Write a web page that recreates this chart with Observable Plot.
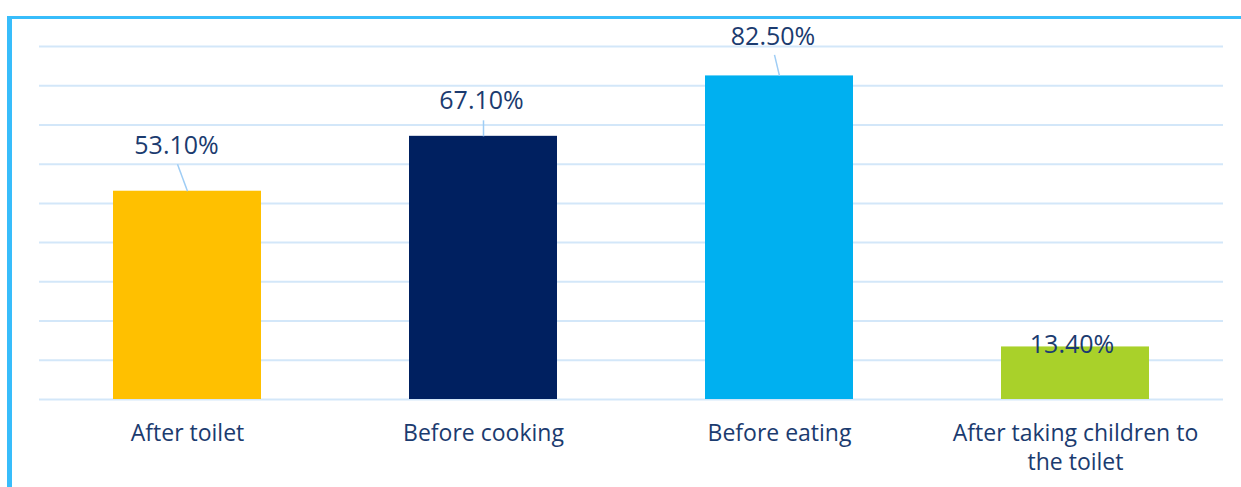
<!DOCTYPE html>
<html>
<head>
<meta charset="utf-8">
<script src="https://cdn.jsdelivr.net/npm/d3@7"></script>
<script src="https://cdn.jsdelivr.net/npm/@observablehq/plot@0.6"></script>
<style>
  html, body { margin: 0; padding: 0; background: #fff; }
  #wrap { position: relative; width: 1241px; height: 487px; overflow: hidden; }
  #frame { position: absolute; left: 7px; top: 16px; width: 1240px; height: 480px;
           border-left: 5px solid #38BDFB; border-top: 3px solid #38BDFB; box-sizing: border-box; }
  #chart { position: absolute; left: 0; top: 0; }
</style>
</head>
<body>
<div id="wrap"><div id="frame"></div><div id="chart"></div></div>
<script>
// ---- data ----
const categories = ["After toilet", "Before cooking", "Before eating", "After taking children to the toilet"];
const tickLabels = ["After toilet", "Before cooking", "Before eating", "After taking children to\nthe toilet"];
const values = [53.1, 67.1, 82.5, 13.4];
const valueLabels = ["53.10%", "67.10%", "82.50%", "13.40%"];
const colors = ["#FFC000", "#002060", "#00B0F0", "#A9D12A"];
const gridTicks = [0, 10, 20, 30, 40, 50, 60, 70, 80, 90];

// ---- layout ----
const W = 1241, H = 487;
const mL = 39, mR = 18, mT = 46, mB = 88;
const pxPerX = (W - mL - mR) / 4;
const pxPerY = (H - mT - mB) / 90;
// label centre offsets & leader-line top offsets (pixels from bar-top centre)
const labelOffsets = [[-11, -45], [-2, -35], [-6.5, -39], [-3.5, -1.5]];
const leaderTops = [[-10, -27], [0, -16], [-5, -21], null];

const textColor = "#1B3B6F";
const font = "'Open Sans', 'Noto Sans', sans-serif";

const rows = categories.map((c, i) => ({
  i, cat: c, tick: tickLabels[i], value: values[i], label: valueLabels[i], color: colors[i],
  xc: i + 0.5,
  lx: i + 0.5 + labelOffsets[i][0] / pxPerX,
  ly: values[i] - labelOffsets[i][1] / pxPerY
}));
const leaders = rows.filter(r => leaderTops[r.i]).map(r => ({
  x1: r.xc, y1: r.value,
  x2: r.xc + leaderTops[r.i][0] / pxPerX,
  y2: r.value - leaderTops[r.i][1] / pxPerY
}));

const chart = Plot.plot({
  width: W, height: H,
  marginLeft: mL, marginRight: mR, marginTop: mT, marginBottom: mB,
  style: { fontFamily: font, background: "transparent", overflow: "visible" },
  x: { domain: [0, 4], axis: null },
  y: { domain: [0, 90], axis: null },
  marks: [
    Plot.ruleY(gridTicks, { stroke: "#D3E7F9", strokeWidth: 2 }),
    Plot.rect(rows, { x1: d => d.xc - 0.25, x2: d => d.xc + 0.25, y1: 0, y2: "value", fill: "color" }),
    Plot.link(leaders, { x1: "x1", y1: "y1", x2: "x2", y2: "y2", stroke: "#9FCDF5", strokeWidth: 1.5 }),
    Plot.text(rows, { x: "lx", y: "ly", text: "label", fill: textColor, fontSize: 25, textAnchor: "middle", lineAnchor: "middle" }),
    Plot.text(rows, { x: "xc", y: 0, text: "tick", fill: textColor, fontSize: 23, textAnchor: "middle", lineAnchor: "top", dy: 21, lineHeight: 1.26 })
  ]
});
document.getElementById("chart").appendChild(chart);
</script>
</body>
</html>
